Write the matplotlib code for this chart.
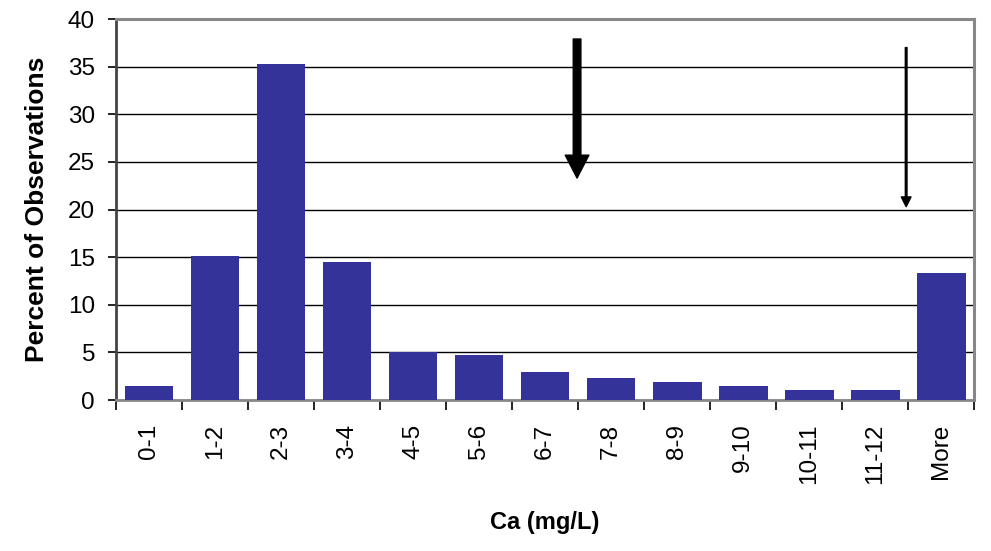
import numpy as np
import matplotlib.pyplot as plt

plt.rcParams['font.family'] = ['Liberation Sans', 'DejaVu Sans']

# binned Ca concentrations (mg/L) and share of observations (%)
bins = ['0-1', '1-2', '2-3', '3-4', '4-5', '5-6', '6-7', '7-8', '8-9',
        '9-10', '10-11', '11-12', 'More']
percent = [1.5, 15.1, 35.3, 14.5, 5.0, 4.7, 2.95, 2.3, 1.9, 1.45, 1.05, 1.05, 13.3]

# arrow markers: (x position in bins, start value, end value)
thick_arrow = (6.485, 37.9, 23.3)
thin_arrow = (11.47, 37.0, 20.3)

fig = plt.figure(figsize=(9.91, 5.51), dpi=100)
ax = fig.add_axes([0.117, 0.274, 0.866, 0.6915])

x = np.arange(len(bins))
ax.bar(x, percent, width=0.74, color='#333399', zorder=3)

ax.set_xlim(-0.5, len(bins) - 0.5)
ax.set_ylim(0, 40)
ax.set_yticks(np.arange(0, 41, 5))
ax.yaxis.grid(True, color='black', linewidth=1.0, zorder=0)

ax.set_xticks(x)
ax.set_xticklabels(bins, rotation=90)
ax.set_xticks(np.arange(-0.5, len(bins)), minor=True)
ax.tick_params(axis='x', which='major', length=0, pad=17, labelsize=17.5)
ax.tick_params(axis='x', which='minor', length=7, width=1.2, direction='out')
ax.tick_params(axis='y', length=6, width=1.2, labelsize=17.5, pad=9)

for side in ['top', 'right']:
    ax.spines[side].set_color('#888888')
    ax.spines[side].set_linewidth(2.2)
ax.spines['left'].set_color('#444444')
ax.spines['left'].set_linewidth(2)
ax.spines['bottom'].set_color('#888888')
ax.spines['bottom'].set_linewidth(2)

ax.set_ylabel('Percent of Observations', fontsize=19, fontweight='bold', labelpad=14)
ax.set_xlabel('Ca (mg/L)', fontsize=17, fontweight='bold', labelpad=19)

ax.annotate('', xy=(thick_arrow[0], thick_arrow[2]), xytext=(thick_arrow[0], thick_arrow[1]),
            arrowprops=dict(facecolor='black', edgecolor='black', width=5.5,
                            headwidth=17, headlength=16.5, shrink=0), zorder=5)
ax.annotate('', xy=(thin_arrow[0], thin_arrow[2]), xytext=(thin_arrow[0], thin_arrow[1]),
            arrowprops=dict(facecolor='black', edgecolor='black', width=1.2,
                            headwidth=7, headlength=7, shrink=0), zorder=5)

fig.savefig('out.png', dpi=100)
